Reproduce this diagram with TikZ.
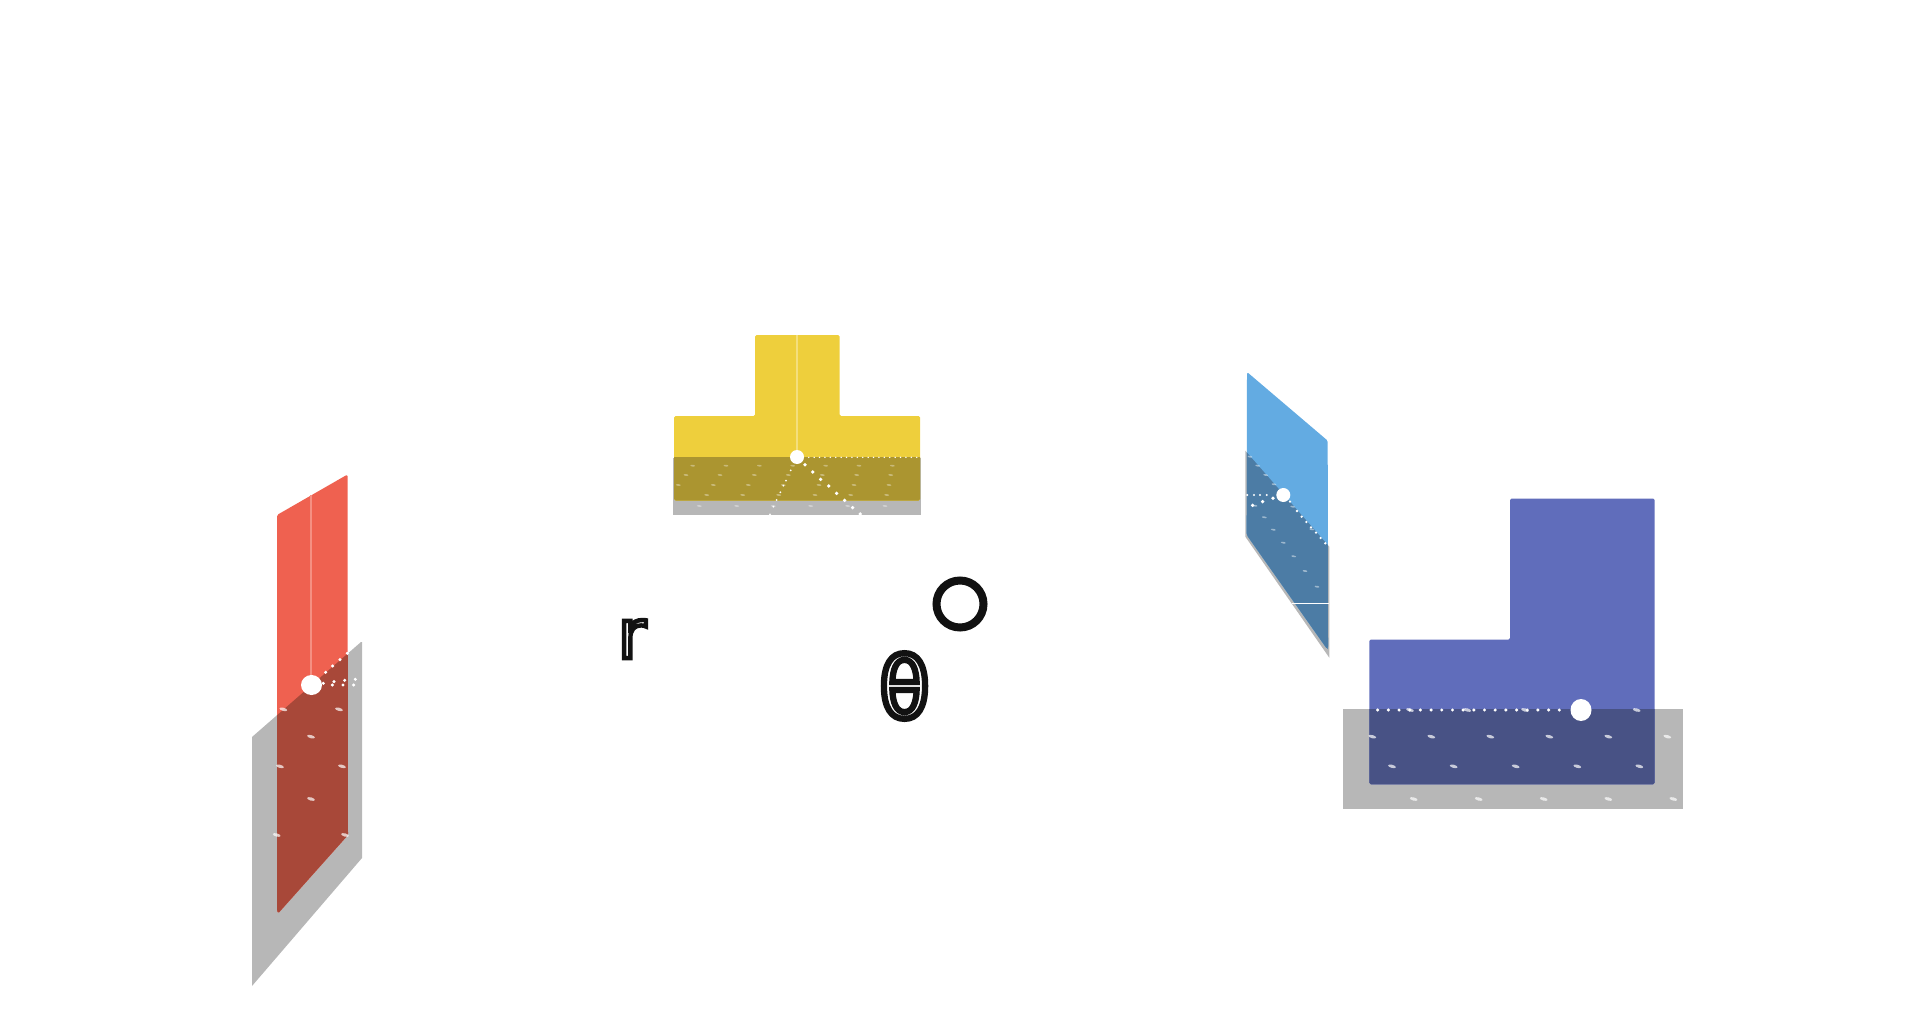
\documentclass[tikz,border=0pt]{standalone}
\usepackage{fontspec}
\setmainfont{DejaVu Sans}
\newfontfamily\monof{DejaVu Sans Mono}
\definecolor{shadowgray}{HTML}{B7B7B7}
\definecolor{inkdark}{HTML}{111111}
\definecolor{redp}{HTML}{EF6150}\definecolor{redo}{HTML}{A84839}\definecolor{redl}{HTML}{F58F82}
\definecolor{yelp}{HTML}{EECF3C}\definecolor{yelo}{HTML}{AB9530}\definecolor{yell}{HTML}{F4DF7C}
\definecolor{blup}{HTML}{63ABE2}\definecolor{bluo}{HTML}{4C7CA5}
\definecolor{purp}{HTML}{606DBB}\definecolor{puro}{HTML}{485285}
\newcommand{\outlined}[2]{\special{pdf:code 1 1 1 rg 0.07 0.07 0.07 RG #1 w 2 Tr}#2\special{pdf:code 0 Tr}}
\newcommand{\smop}{0.7}\newcommand{\smx}{4pt}\newcommand{\smy}{1.6pt}
\tikzset{
  shadowshape/.style={fill=shadowgray},
  zoomA/.style={x=0.33333pt,y=-0.33333pt},
  smudge/.style={fill=white,fill opacity=\smop},
  bigdot/.style={fill=white},
}
\newcommand{\smudges}[2][-15]{\foreach \px/\py in {#2}{\fill[smudge,rotate around={#1:(\px,\py)}] (\px,\py) ellipse[x radius=\smx,y radius=\smy];}}
\newcommand{\dotsat}[2]{\foreach \px/\py in {#2}{\fill[bigdot] (\px,\py) circle[radius=#1];}}
\begin{document}
\begin{tikzpicture}[x=1pt,y=-1pt]
\useasboundingbox (0,0) rectangle (1920,1019);
% ---- red ----
\def\redshape{(277,515) -- (347.5,474.5) -- (348,835) -- (278,913.5) -- (277,910) -- cycle}
\fill[shadowshape] (252,737) -- (361,642) -- (362,642) -- (362,858) -- (252,986) -- cycle;
\fill[redp,rounded corners=1.5pt] \redshape;
\begin{scope}
\clip (252,737) -- (361,642) -- (362,858) -- (252,986) -- cycle;
\fill[redo,rounded corners=1.5pt] \redshape;
\end{scope}
\draw[redl,line width=1.4pt] (311,495) -- (311,684);
\begin{scope}[shift={(230,460)},zoomA]
\dotsat{1.7pt}{287/637,308/618,330/599,352/580,280/670,312/665,344/661,376/658,307/675,339/675,371/675}
\smudges{160/748,327/748}
\end{scope}
\begin{scope}[shift={(230,720)},zoomA]
\smudges{243/50,150/139,336/139,243/237,140/345,345/345}
\end{scope}
\fill[bigdot] (311.5,685) ellipse[x radius=10.5pt,y radius=10pt];
% ---- yellow ----
\def\yelshape{(755,335) -- (839.5,335) -- (839.5,416) -- (920,416) -- (920,500.5) -- (674,500.5) -- (674,416) -- (755,416) -- cycle}
\fill[shadowshape] (672.5,457.5) rectangle (921,514.5);
\fill[yelp,rounded corners=1.5pt] \yelshape;
\begin{scope}
\clip (672.5,457.5) rectangle (921,514.5);
\fill[yelo,rounded corners=1.5pt] \yelshape;
\end{scope}
\draw[yell,line width=1.3pt] (797,335) -- (797,457);
\begin{scope}[shift={(660,320)},zoomA]
\renewcommand{\smop}{0.35}\renewcommand{\smx}{2.4pt}\renewcommand{\smy}{0.9pt}
\smudges[-6]{98/437,198/437,298/437,398/437,497/437,597/437,697/437,78/465,180/465,283/465,385/465,487/465,590/465,692/465,55/495,160/495,265/495,370/495,477/495,582/495,687/495,140/525,248/525,356/525,465/525,572/525,680/525,118/558,230/558,340/558,452/558,563/558,675/558}
\dotsat{1.9pt}{435/434,458/456,482/478,506/498,530/520,554/541,578/563,601/582}
\dotsat{1pt}{392/451,378/482,370/497,361/517,350/540,340/560,330/583}
\foreach \k in {0,...,21}{\fill[bigdot] (430+16.2*\k,412) circle[radius=0.8pt];}
\end{scope}
\fill[bigdot] (797,457) circle[radius=7pt];
% ---- blue ----
\def\blushape{(1247,372) -- (1327.7,440.7) -- (1328,648) -- (1327,649) -- (1246.7,535) -- cycle}
\fill[shadowshape] (1245.3,450.7) -- (1329.3,546.7) -- (1329.3,657.7) -- (1245.3,536.7) -- cycle;
\fill[blup,rounded corners=1.5pt] \blushape;
\begin{scope}
\clip (1245.3,450.7) -- (1329.3,546.7) -- (1329.3,657.7) -- (1245.3,536.7) -- cycle;
\fill[bluo,rounded corners=1.5pt] \blushape;
\end{scope}
\draw[white,line width=1.6pt] (1292,603.3) -- (1329.3,603.3);
\begin{scope}[shift={(1230,360)},zoomA]
\renewcommand{\smop}{0.45}\renewcommand{\smx}{2.4pt}\renewcommand{\smy}{0.9pt}
\smudges[-10]{60/290,83/317,107/345,132/373,188/440,75/437,103/472,130/509,160/548,191/589,225/633,261/680,245/508}
\dotsat{1.1pt}{52/405,72/405,90/405,110/405}
\dotsat{1.9pt}{129/415,98/425,68/436}
\dotsat{1.3pt}{180/425,201/453,215/470,229/486,243/502,258/518,272/534,286/550}
\end{scope}
\fill[bigdot] (1283.3,495) circle[radius=7pt];
% ---- purple ----
\def\purshape{(1510,498.5) -- (1654.5,498.5) -- (1654.5,784.3) -- (1369.3,784.3) -- (1369.3,639.5) -- (1510,639.5) -- cycle}
\fill[shadowshape] (1342.7,709.3) rectangle (1683,809.3);
\fill[purp,rounded corners=1.5pt] \purshape;
\begin{scope}
\clip (1342.7,709.3) rectangle (1683,809.3);
\fill[puro,rounded corners=1.5pt] \purshape;
\end{scope}
\begin{scope}[shift={(1330,680)},zoomA]
\smudges[-15]{240/90,412/90,585/90,920/90,127/170,304/170,481/170,658/170,835/170,1012/170,186/259,371/259,557/259,742/259,928/259,251/357,446/357,641/357,835/357,1030/357}
\foreach \k in {0,...,17}{\fill[bigdot] (143+32.05*\k,90) circle[radius=1.7pt];}
\end{scope}
\fill[bigdot] (1581,710) ellipse[x radius=10.5pt,y radius=11pt];
% ---- labels ----
\node[inner sep=0pt,anchor=center] (rlabel) at (632,639) {\fontsize{68}{68}\selectfont\outlined{4.4}{r}};
\node[inner sep=0pt,anchor=center] (thlabel) at (904.5,686) {\fontsize{88}{88}\monof\outlined{6.3}{θ}};
\draw[inkdark,line width=8pt] (960,604) circle[radius=23.5pt];
\end{tikzpicture}
\end{document}
